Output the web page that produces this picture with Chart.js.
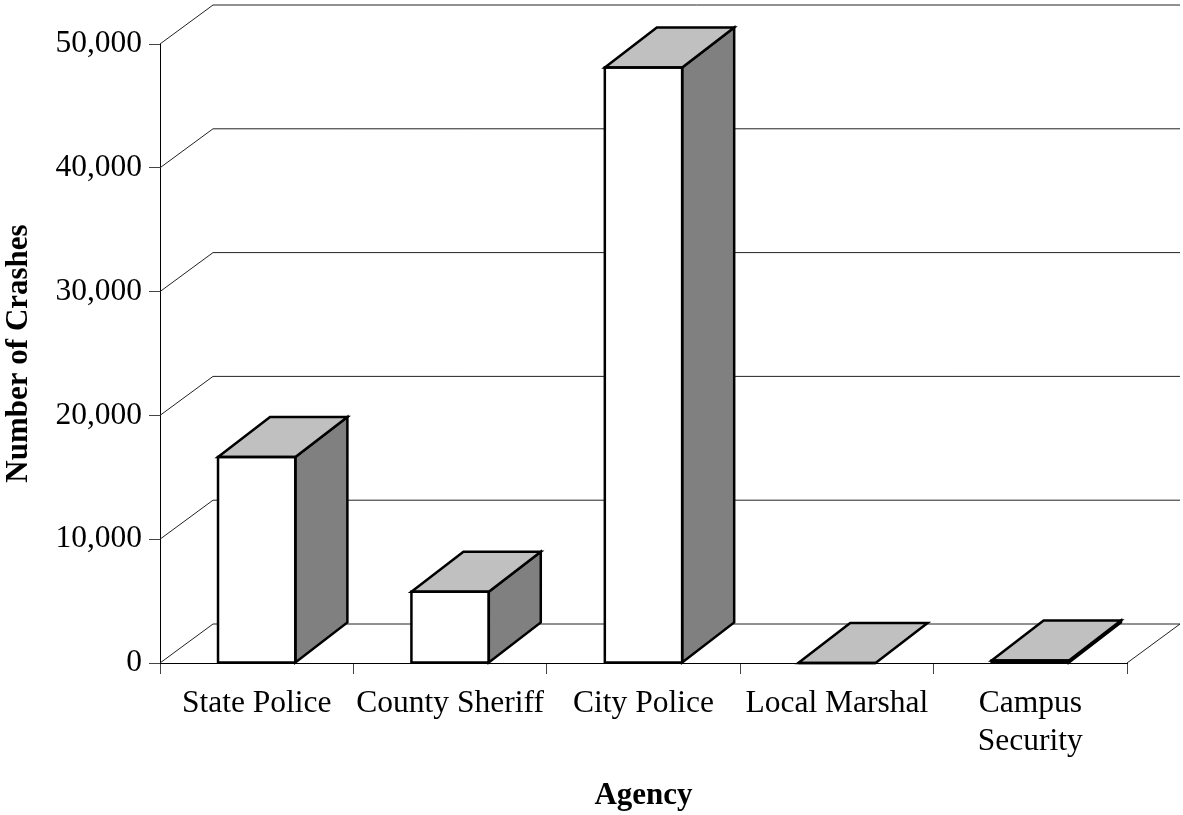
<!DOCTYPE html>
<html>
<head>
<meta charset="utf-8">
<script src="https://cdn.jsdelivr.net/npm/chart.js@4/dist/chart.umd.min.js"></script>
<style>
  body { margin: 0; background: #fff; }
  canvas { display: block; }
</style>
</head>
<body>
<canvas id="crashChart" width="1183" height="815"></canvas>
<script>
// Crash counts by reporting agency
const agencies = ["State Police", "County Sheriff", "City Police", "Local Marshal", ["Campus", "Security"]];
const crashes = [16640, 5760, 48100, 0, 200];

// y axis ticks
const yMin = 0;
const yMax = 50000;
const yStep = 10000;

// 3D offsets (wall depth and bar depth)
const WALL_DX = 53, WALL_DY = -39;
const BAR_DX = 52, BAR_DY = -40;

Chart.defaults.font.family = "'Liberation Serif', 'Times New Roman', serif";
Chart.defaults.color = "#000";

// back wall, left wall and floor lines
const wallPlugin = {
  id: "wall3d",
  beforeDatasetsDraw(chart) {
    const ctx = chart.ctx;
    const area = chart.chartArea;
    const yScale = chart.scales.y;
    ctx.save();
    ctx.lineWidth = 1;
    ctx.strokeStyle = "#222";
    yScale.ticks.forEach(t => {
      const y = yScale.getPixelForValue(t.value);
      ctx.beginPath();
      ctx.moveTo(area.left, y);
      ctx.lineTo(area.left + WALL_DX, y + WALL_DY);
      ctx.lineTo(area.right + WALL_DX, y + WALL_DY);
      ctx.stroke();
    });
    // right edge of floor
    ctx.beginPath();
    ctx.moveTo(area.right, area.bottom);
    ctx.lineTo(area.right + WALL_DX, area.bottom + WALL_DY);
    ctx.stroke();
    ctx.restore();
  }
};

// side and top faces of the bars
const barPlugin = {
  id: "bars3d",
  afterDatasetsDraw(chart) {
    const ctx = chart.ctx;
    const meta = chart.getDatasetMeta(0);
    ctx.save();
    ctx.lineWidth = 2.5;
    ctx.lineJoin = "miter";
    ctx.strokeStyle = "#000";
    meta.data.forEach(bar => {
      const p = bar.getProps(["x", "y", "base", "width"], true);
      const x0 = p.x - p.width / 2;
      const x1 = p.x + p.width / 2;
      const top = Math.min(p.y, p.base);
      const bottom = Math.max(p.y, p.base);

      // right side
      if (bottom - top > 0.5) {
        ctx.beginPath();
        ctx.moveTo(x1, top);
        ctx.lineTo(x1 + BAR_DX, top + BAR_DY);
        ctx.lineTo(x1 + BAR_DX, bottom + BAR_DY);
        ctx.lineTo(x1, bottom);
        ctx.closePath();
        ctx.fillStyle = "#808080";
        ctx.fill();
        ctx.stroke();
      }

      // top
      ctx.beginPath();
      ctx.moveTo(x0, top);
      ctx.lineTo(x1, top);
      ctx.lineTo(x1 + BAR_DX, top + BAR_DY);
      ctx.lineTo(x0 + BAR_DX, top + BAR_DY);
      ctx.closePath();
      ctx.fillStyle = "#c0c0c0";
      ctx.fill();
      ctx.stroke();

      // front outline
      ctx.strokeRect(x0, top, x1 - x0, bottom - top);
    });
    ctx.restore();
  }
};

new Chart(document.getElementById("crashChart"), {
  type: "bar",
  data: {
    labels: agencies,
    datasets: [
      {
        label: "Crashes",
        data: crashes,
        backgroundColor: "#ffffff",
        borderWidth: 0,
        barPercentage: 0.4,
        categoryPercentage: 1.0
      }
    ]
  },
  options: {
    responsive: false,
    animation: false,
    layout: {
      padding: { top: 44, right: 56, left: 0, bottom: 0 }
    },
    plugins: {
      legend: { display: false },
      tooltip: { enabled: false }
    },
    scales: {
      x: {
        grid: {
          offset: true,
          drawOnChartArea: false,
          tickLength: 11,
          color: "#444"
        },
        border: { display: true, color: "#000", width: 1 },
        ticks: {
          font: { size: 31.5 },
          padding: 11,
          maxRotation: 0,
          autoSkip: false
        },
        title: {
          display: true,
          text: "Agency",
          font: { size: 31, weight: "bold" },
          padding: { top: 0, bottom: 0 }
        },
        afterFit(scale) {
          scale.height = 152;
        }
      },
      y: {
        min: yMin,
        max: yMax,
        ticks: {
          stepSize: yStep,
          font: { size: 31.5 },
          padding: 7,
          callback: v => v.toLocaleString("en-US")
        },
        grid: {
          drawOnChartArea: false,
          tickLength: 11,
          color: "#444"
        },
        border: { display: true, color: "#000", width: 1 },
        title: {
          display: true,
          text: "Number of Crashes",
          font: { size: 31, weight: "bold" },
          padding: { top: 0, bottom: 0 }
        },
        afterFit(scale) {
          scale.width = 160;
        }
      }
    }
  },
  plugins: [wallPlugin, barPlugin]
});
</script>
</body>
</html>
